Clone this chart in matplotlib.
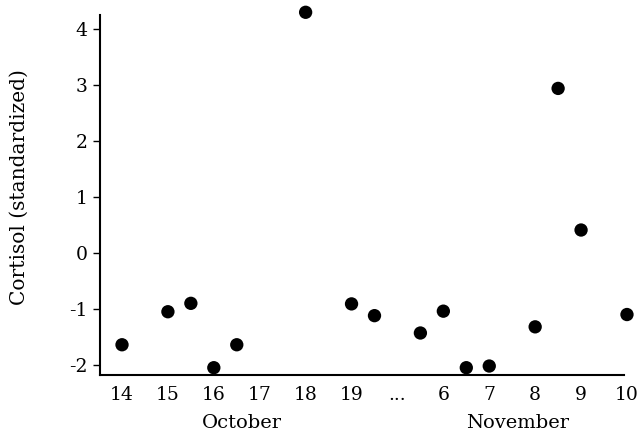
"""
Cortisol by day, October / November
"""
import matplotlib
matplotlib.use("Agg")
import matplotlib.pyplot as plt

# tick labels along the x axis (one slot each, "..." marks the gap)
day_labels = ['14', '15', '16', '17', '18', '19', '...', '6', '7', '8', '9', '10']

# sample positions, in tick slots (half slots between labelled days)
sample_pos = [0, 1, 1.5, 2, 2.5, 4, 5, 5.5, 6.5, 7, 7.5, 8, 9, 9.5, 10, 11]
cortisol = [-1.64, -1.05, -0.9, -2.05, -1.64, 4.3, -0.91, -1.12, -1.43,
            -1.04, -2.05, -2.02, -1.32, 2.94, 0.41, -1.1]

y_ticks = [-2, -1, 0, 1, 2, 3, 4]

plt.rcParams['font.family'] = ['DejaVu Serif']

fig = plt.figure(figsize=(6.38, 4.33), dpi=100, facecolor='w')
ax = fig.add_axes([0.1567, 0.134, 0.844, 0.857])

ax.scatter(sample_pos, cortisol, c='k', s=92, edgecolor='none', zorder=3, clip_on=False)

ax.set_xlim(-0.48, 11.25)
ax.set_ylim(-2.18, 4.45)

for side in ('top', 'right'):
  ax.spines[side].set_visible(False)
ax.spines['left'].set_linewidth(1.5)
ax.spines['bottom'].set_linewidth(1.5)
ax.spines['left'].set_bounds(-2.18, 4.25)
ax.spines['bottom'].set_bounds(-0.48, 10.94)

ax.set_xticks(range(len(day_labels)))
ax.set_xticklabels(day_labels)
ax.set_yticks(y_ticks)
ax.set_yticklabels([str(v) for v in y_ticks])

ax.tick_params(axis='x', length=0, pad=8, labelsize=13.5)
ax.tick_params(axis='y', length=5, width=1, pad=4, labelsize=13.5)

ax.set_ylabel('Cortisol (standardized)', fontsize=14.5, va='center')
ax.yaxis.set_label_coords(-0.149, 0.507)

fig.text(242 / 638, 1 - 423 / 433, 'October', fontsize=14, ha='center', va='center')
fig.text(518 / 638, 1 - 423 / 433, 'November', fontsize=14, ha='center', va='center')

plt.savefig('out.png', dpi=100)
